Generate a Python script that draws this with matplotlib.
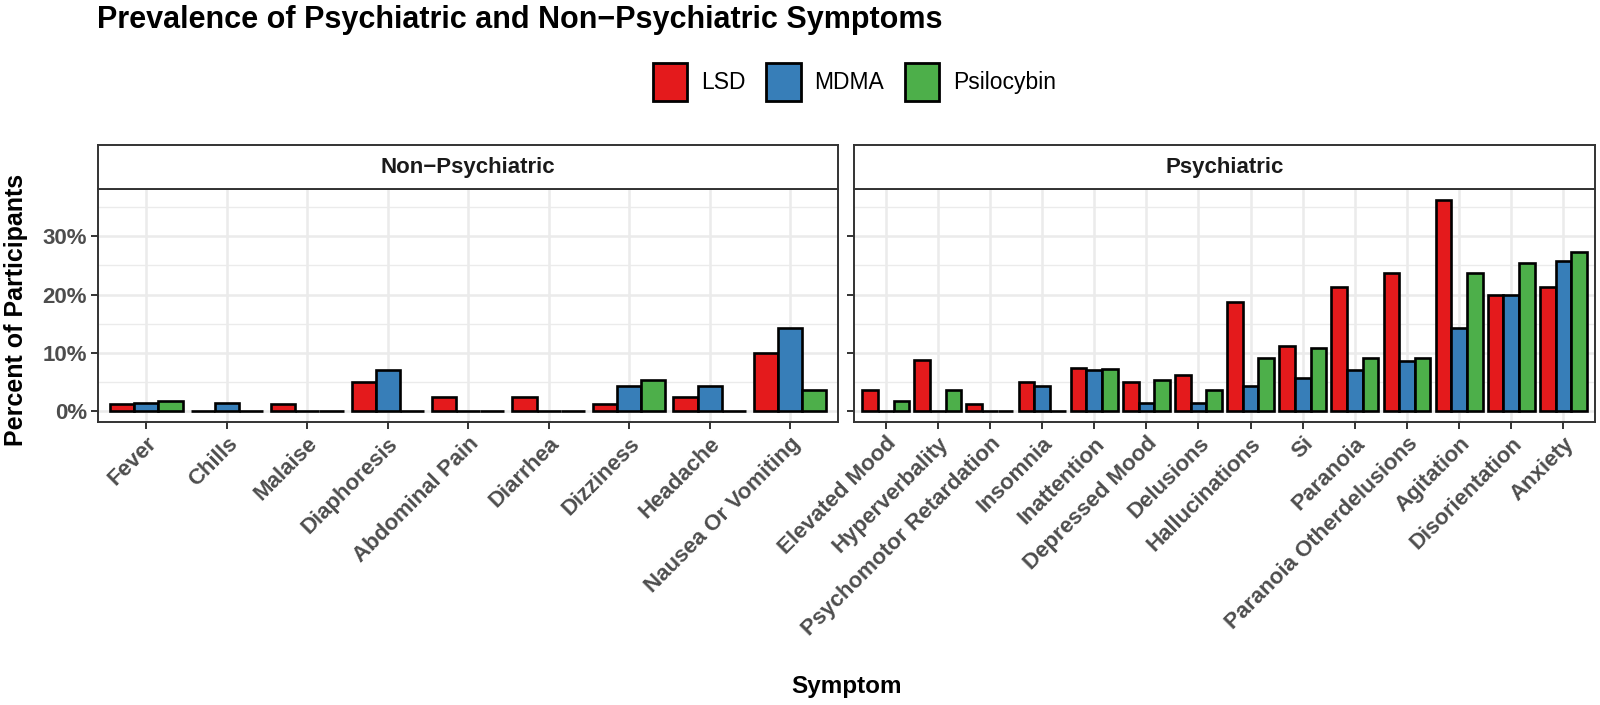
import numpy as np
import matplotlib.pyplot as plt
from matplotlib.patches import Rectangle

plt.rcParams['font.family'] = ['Liberation Sans', 'DejaVu Sans']

DRUGS = ['LSD', 'MDMA', 'Psilocybin']
COLORS = ['#E41A1C', '#377EB8', '#4DAF4A']

# Non-Psychiatric facet
non_psych = ['Fever', 'Chills', 'Malaise', 'Diaphoresis', 'Abdominal Pain',
             'Diarrhea', 'Dizziness', 'Headache', 'Nausea Or Vomiting']
non_lsd = [1.25, 0, 1.25, 5.0, 2.5, 2.5, 1.25, 2.5, 10.0]
non_mdma = [1.43, 1.43, 0, 7.14, 0, 0, 4.29, 4.29, 14.29]
non_psilo = [1.82, 0, 0, 0, 0, 0, 5.45, 0, 3.64]

# Psychiatric facet
psych = ['Elevated Mood', 'Hyperverbality', 'Psychomotor Retardation', 'Insomnia',
         'Inattention', 'Depressed Mood', 'Delusions', 'Hallucinations', 'Si',
         'Paranoia', 'Paranoia Otherdelusions', 'Agitation', 'Disorientation', 'Anxiety']
psy_lsd = [3.75, 8.75, 1.25, 5.0, 7.5, 5.0, 6.25, 18.75, 11.25, 21.25, 23.75, 36.25, 20.0, 21.25]
psy_mdma = [0, 0, 0, 4.29, 7.14, 1.43, 1.43, 4.29, 5.71, 7.14, 8.57, 14.29, 20.0, 25.71]
psy_psilo = [1.82, 3.64, 0, 0, 7.27, 5.45, 3.64, 9.09, 10.91, 9.09, 9.09, 23.64, 25.45, 27.27]

ymax = max(max(psy_lsd), max(non_mdma))
ylim = (-0.05 * ymax, 1.05 * ymax)

fig = plt.figure(figsize=(16, 7.05), dpi=100)

panels = [
    (0.0613, 'Non−Psychiatric', non_psych, [non_lsd, non_mdma, non_psilo]),
    (0.5340, 'Psychiatric', psych, [psy_lsd, psy_mdma, psy_psilo]),
]
ax_w = 0.4627
ax_b, ax_h = 0.4014, 0.3305
strip_h = 0.0624

for i, (x0, title, cats, series) in enumerate(panels):
    ax = fig.add_axes([x0, ax_b, ax_w, ax_h])
    x = np.arange(len(cats))
    w = 0.3
    for j, vals in enumerate(series):
        ax.bar(x + (j - 1) * w, vals, width=w, color=COLORS[j],
               edgecolor='black', linewidth=1.9, zorder=3)
    ax.set_xlim(-0.6, len(cats) - 0.4)
    ax.set_ylim(*ylim)
    ax.set_yticks([0, 10, 20, 30])
    ax.set_yticks([5, 15, 25, 35], minor=True)
    ax.set_xticks(x)
    ax.grid(which='major', color='#EBEBEB', linewidth=1.8, zorder=0)
    ax.grid(which='minor', axis='y', color='#EBEBEB', linewidth=1.0, zorder=0)
    ax.tick_params(axis='y', which='minor', length=0)
    ax.tick_params(which='major', length=5, width=1.4, color='#333333',
                   labelcolor='#4D4D4D', labelsize=16, pad=3)
    ax.set_xticklabels(cats, rotation=45, ha='right', rotation_mode='anchor',
                       fontweight='bold')
    if i == 0:
        ax.set_yticklabels(['0%', '10%', '20%', '30%'], fontweight='bold')
    else:
        ax.tick_params(axis='y', labelleft=False)
    for s in ax.spines.values():
        s.set_color('#333333')
        s.set_linewidth(1.4)

    # facet strip
    sax = fig.add_axes([x0, ax_b + ax_h, ax_w, strip_h])
    sax.set_xticks([])
    sax.set_yticks([])
    for s in sax.spines.values():
        s.set_color('#333333')
        s.set_linewidth(1.4)
    sax.text(0.5, 0.5, title, ha='center', va='center', fontsize=16,
             fontweight='bold', color='#1A1A1A', transform=sax.transAxes)

fig.text(0.0606, 0.960, 'Prevalence of Psychiatric and Non−Psychiatric Symptoms',
         fontsize=22, fontweight='bold', ha='left', va='baseline')
fig.text(0.529, 0.017, 'Symptom', fontsize=17.5, fontweight='bold',
         ha='center', va='baseline')
fig.text(0.010, 0.560, 'Percent of Participants', fontsize=18, fontweight='bold',
         rotation=90, ha='center', va='center')

handles = [Rectangle((0, 0), 1, 1, facecolor=c, edgecolor='black', linewidth=2.0)
           for c in COLORS]
fig.legend(handles, DRUGS, loc='center', bbox_to_anchor=(0.534, 0.884), ncol=3,
           frameon=False, fontsize=16.5, handlelength=1.5, handleheight=2.2,
           columnspacing=0.9, handletextpad=0.6)

fig.savefig('out.png', dpi=100)
